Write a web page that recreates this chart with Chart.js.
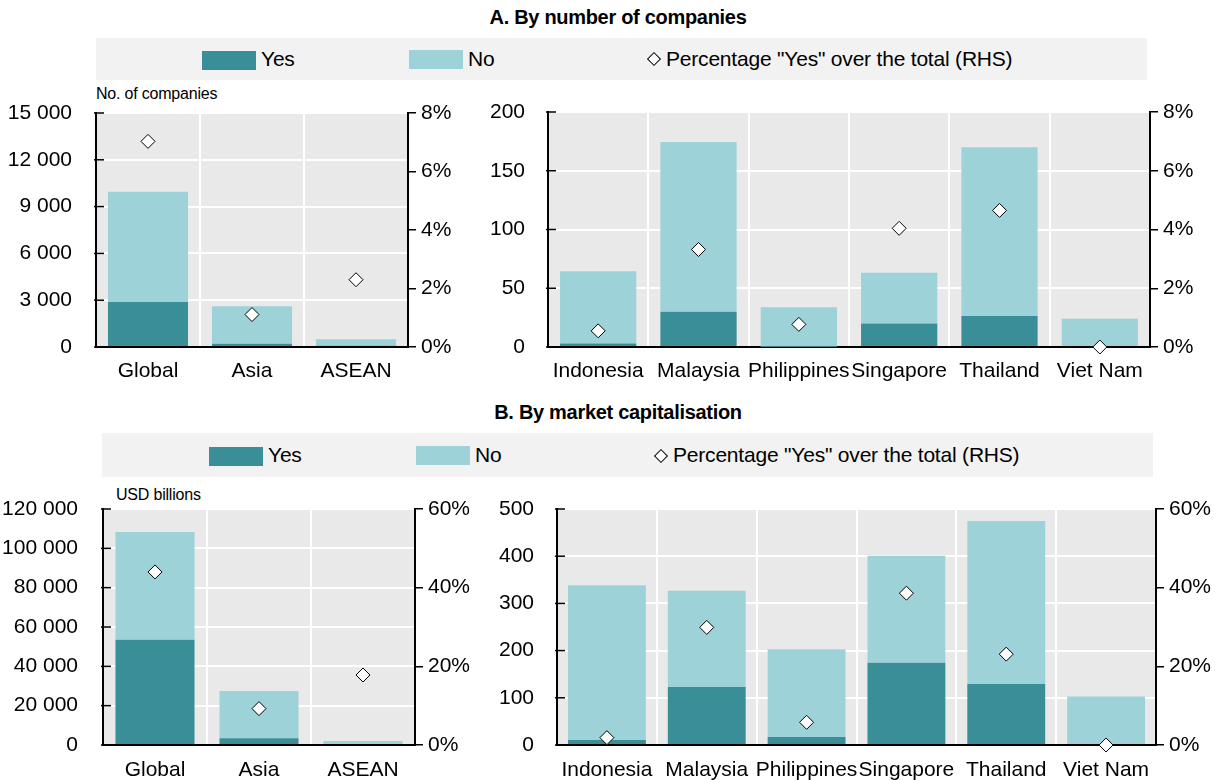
<!DOCTYPE html>
<html>
<head>
<meta charset="utf-8">
<script src="https://cdn.jsdelivr.net/npm/chart.js@4"></script>
<style>
body { margin: 0; background: #fff; font-family: "Liberation Sans", Arial, sans-serif; color: #000; }
#wrap { position: relative; width: 1222px; height: 780px; overflow: hidden; }
.title { position: absolute; left: 0; width: 1236px; text-align: center; font-weight: bold; font-size: 20px; letter-spacing: -0.3px; }
.legend { position: absolute; background: #f2f2f2; }
.sw { position: absolute; width: 54px; height: 19px; }
.lt { position: absolute; font-size: 21px; line-height: 24px; letter-spacing: -0.2px; }
.dia { position: absolute; width: 8px; height: 8px; border: 1px solid #000; background: #fff; transform: rotate(45deg); }
.unit { position: absolute; font-size: 16px; letter-spacing: -0.2px; }
.box { position: absolute; }
</style>
</head>
<body>
<div id="wrap">
  <div class="title" style="top:6px">A. By number of companies</div>
  <div class="legend" style="left:96px;top:38px;width:1051px;height:42px"></div>
  <div class="sw" style="left:202px;top:51px;background:#3a8e97"></div>
  <div class="lt" style="left:261px;top:47px">Yes</div>
  <div class="sw" style="left:409px;top:50px;background:#9dd3d8"></div>
  <div class="lt" style="left:468px;top:47px">No</div>
  <div class="dia" style="left:649px;top:54px"></div>
  <div class="lt" style="left:666px;top:47px">Percentage "Yes" over the total (RHS)</div>
  <div class="unit" style="left:96px;top:85px">No. of companies</div>

  <div class="title" style="top:401px">B. By market capitalisation</div>
  <div class="legend" style="left:102px;top:433px;width:1051px;height:44px"></div>
  <div class="sw" style="left:209px;top:447px;background:#3a8e97"></div>
  <div class="lt" style="left:268px;top:443px">Yes</div>
  <div class="sw" style="left:416px;top:446px;background:#9dd3d8"></div>
  <div class="lt" style="left:475px;top:443px">No</div>
  <div class="dia" style="left:656px;top:451px"></div>
  <div class="lt" style="left:673px;top:443px">Percentage "Yes" over the total (RHS)</div>
  <div class="unit" style="left:116px;top:486px">USD billions</div>

  <canvas id="aLeft" class="box" width="475" height="310" style="left:0;top:85px"></canvas>
  <canvas id="aRight" class="box" width="747" height="310" style="left:475px;top:85px"></canvas>
  <canvas id="bLeft" class="box" width="480" height="300" style="left:0;top:480px"></canvas>
  <canvas id="bRight" class="box" width="742" height="300" style="left:480px;top:480px"></canvas>
</div>
<script>
const regions = ["Global", "Asia", "ASEAN"]
const countries = ["Indonesia", "Malaysia", "Philippines", "Singapore", "Thailand", "Viet Nam"]

// A. number of companies
const compRegYes = [2890, 215, 80]
const compRegNo = [7060, 2400, 413]
const compRegPct = [7.03, 1.11, 2.3]
const compCtyYes = [3, 30, 0.5, 20, 26.4, 0]
const compCtyNo = [61.5, 144.5, 33.3, 43.2, 143.6, 24.1]
const compCtyPct = [0.55, 3.32, 0.77, 4.04, 4.65, 0]

// B. market capitalisation (USD billions)
const capRegYes = [53500, 3400, 450]
const capRegNo = [54800, 24100, 1590]
const capRegPct = [44, 9.25, 17.8]
const capCtyYes = [10.6, 123, 17, 174, 129.4, 0]
const capCtyNo = [328, 203.7, 186, 227, 345, 102.5]
const capCtyPct = [1.87, 29.9, 5.77, 38.6, 23.1, 0]

Chart.defaults.font.family = '"Liberation Sans", Arial, sans-serif'
Chart.defaults.font.size = 21
Chart.defaults.color = '#000'

const plotBg = {
    id: 'plotBg',
    beforeDraw(c) {
        let a = c.chartArea, ctx = c.ctx
        ctx.save()
        ctx.fillStyle = '#e9e9e9'
        ctx.fillRect(a.left, a.top, a.right - a.left, a.bottom - a.top)
        ctx.restore()
    },
    afterDraw(c) {
        // small inward tick marks on the left axis
        let s = c.scales.y, ctx = c.ctx
        ctx.save()
        ctx.strokeStyle = '#000'
        ctx.lineWidth = 1.5
        s.ticks.forEach((t, i) => {
            let y = s.getPixelForTick(i)
            ctx.beginPath()
            ctx.moveTo(s.right - 2, y)
            ctx.lineTo(s.right + 8, y)
            ctx.stroke()
        })
        ctx.restore()
    }
}

function fmt(v) {
    return v.toLocaleString('en-US').replace(/,/g, ' ')
}

function makeChart(id, labels, yes, no, pct, o) {
    let ctx = document.getElementById(id).getContext('2d')
    return new Chart(ctx, {
        data: {
            labels: labels,
            datasets: [{
                type: 'line',
                label: 'Percentage "Yes" over the total (RHS)',
                data: pct,
                yAxisID: 'y1',
                showLine: false,
                clip: false,
                pointStyle: 'rectRot',
                pointRadius: 7,
                pointBackgroundColor: '#fff',
                pointBorderColor: '#000',
                pointBorderWidth: 1,
                order: 0
            },
            {
                type: 'bar',
                label: 'Yes',
                data: yes,
                backgroundColor: '#3a8e97',
                stack: 's',
                yAxisID: 'y',
                barPercentage: o.bar,
                categoryPercentage: 1,
                order: 1
            },
            {
                type: 'bar',
                label: 'No',
                data: no,
                backgroundColor: '#9dd3d8',
                stack: 's',
                yAxisID: 'y',
                barPercentage: o.bar,
                categoryPercentage: 1,
                order: 1
            }]
        },
        options: {
            responsive: false,
            animation: false,
            layout: { padding: { top: o.top, left: 0, right: 0, bottom: 0 } },
            plugins: { legend: { display: false }, tooltip: { enabled: false } },
            scales: {
                x: {
                    stacked: true,
                    afterFit: s => { s.height = o.xh },
                    grid: { offset: true, color: '#fff', lineWidth: 2, drawTicks: false },
                    border: { color: '#000', width: 2 },
                    ticks: { padding: o.xpad, maxRotation: 0, autoSkip: false }
                },
                y: {
                    stacked: true,
                    position: 'left',
                    min: 0, max: o.max,
                    afterFit: s => { s.width = o.lw },
                    afterBuildTicks: s => { s.ticks = o.ticks.map(v => ({ value: v })) },
                    grid: { color: '#fff', lineWidth: 2, drawTicks: true, tickLength: o.lpad, tickColor: 'rgba(0,0,0,0)' },
                    border: { color: '#000', width: 2 },
                    ticks: { padding: 2, callback: v => fmt(v) }
                },
                y1: {
                    position: 'right',
                    min: 0, max: o.pmax,
                    afterFit: s => { s.width = o.rw },
                    afterBuildTicks: s => { s.ticks = o.pticks.map(v => ({ value: v })) },
                    grid: { drawOnChartArea: false, drawTicks: true, tickLength: 8, color: '#000', lineWidth: 1.5 },
                    border: { color: '#000', width: 2 },
                    ticks: { padding: 5, callback: v => v + '%' }
                }
            }
        },
        plugins: [plotBg]
    })
}

makeChart('aLeft', regions, compRegYes, compRegNo, compRegPct, {
    bar: 0.77, top: 28, xh: 48, lw: 96, rw: 67, lpad: 22, xpad: 12,
    max: 15000, ticks: [0, 3000, 6000, 9000, 12000, 15000],
    pmax: 8, pticks: [0, 2, 4, 6, 8]
})
makeChart('aRight', countries, compCtyYes, compCtyNo, compCtyPct, {
    bar: 0.76, top: 27, xh: 48, lw: 73, rw: 72, lpad: 21, xpad: 12,
    max: 200, ticks: [0, 50, 100, 150, 200],
    pmax: 8, pticks: [0, 2, 4, 6, 8]
})
makeChart('bLeft', regions, capRegYes, capRegNo, capRegPct, {
    bar: 0.76, top: 29, xh: 35, lw: 103, rw: 65, lpad: 23, xpad: 13,
    max: 120000, ticks: [0, 20000, 40000, 60000, 80000, 100000, 120000],
    pmax: 60, pticks: [0, 20, 40, 60]
})
makeChart('bRight', countries, capCtyYes, capCtyNo, capCtyPct, {
    bar: 0.78, top: 29, xh: 35, lw: 77, rw: 66, lpad: 21, xpad: 13,
    max: 500, ticks: [0, 100, 200, 300, 400, 500],
    pmax: 60, pticks: [0, 20, 40, 60]
})
</script>
</body>
</html>
